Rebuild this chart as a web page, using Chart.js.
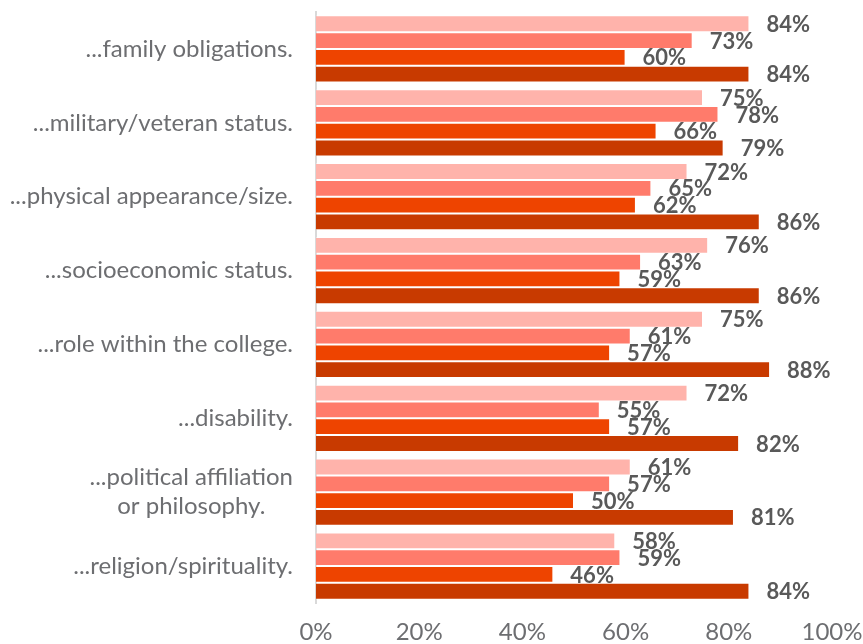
<!DOCTYPE html>
<html>
<head>
<meta charset="utf-8">
<script src="https://cdn.jsdelivr.net/npm/chart.js@4/dist/chart.umd.min.js"></script>
<style>
  html, body { margin: 0; padding: 0; background: #fff; }
  #wrap { width: 863px; height: 644px; position: relative; }
</style>
</head>
<body>
<div id="wrap"><canvas id="chart"></canvas></div>
<script>
// categories (multi-line entries are arrays)
const categories = [
  '...family obligations.',
  '...military/veteran status.',
  '...physical appearance/size.',
  '...socioeconomic status.',
  '...role within the college.',
  '...disability.',
  ['...political affiliation', 'or philosophy.'],
  '...religion/spirituality.'
];

// percentages per series, same order as categories
const series1 = [84, 75, 72, 76, 75, 72, 61, 58];
const series2 = [73, 78, 65, 63, 61, 55, 57, 59];
const series3 = [60, 66, 62, 59, 57, 57, 50, 46];
const series4 = [84, 79, 86, 86, 88, 82, 81, 84];

const xTicks = [0, 20, 40, 60, 80, 100];

const colors = ['#FFB3AB', '#FF7B6B', '#EE4400', '#C83A00'];

// value labels to the right of each bar
const valueLabels = {
  id: 'valueLabels',
  afterDatasetsDraw(chart) {
    const ctx = chart.ctx;
    ctx.save();
    ctx.font = 'bold 22px Lato';
    ctx.fillStyle = '#595959';
    ctx.textAlign = 'left';
    ctx.textBaseline = 'middle';
    chart.data.datasets.forEach((ds, i) => {
      chart.getDatasetMeta(i).data.forEach((bar, j) => {
        ctx.fillText(ds.data[j] + '%', bar.x + 17, bar.y + 1);
      });
    });
    ctx.restore();
  }
};

// category labels, right edge fixed, lines of a wrapped label centred
const categoryLabels = {
  id: 'categoryLabels',
  afterDraw(chart) {
    const ctx = chart.ctx;
    const y = chart.scales.y;
    const right = 293;
    const lineH = 29;
    ctx.save();
    ctx.font = '24px Lato';
    ctx.fillStyle = '#6D6E71';
    ctx.textAlign = 'center';
    ctx.textBaseline = 'middle';
    categories.forEach((c, i) => {
      const lines = Array.isArray(c) ? c : [c];
      const w = Math.max(...lines.map(l => ctx.measureText(l).width));
      const cx = right - w / 2;
      const cy = y.getPixelForTick(i);
      lines.forEach((l, k) => {
        ctx.fillText(l, cx, cy + (k - (lines.length - 1) / 2) * lineH);
      });
    });
    ctx.restore();
  }
};

const ctx = document.getElementById('chart').getContext('2d');
const myChart = new Chart(ctx, {
  type: 'bar',
  data: {
    labels: categories,
    datasets: [series1, series2, series3, series4].map((d, i) => ({
      label: 'Series ' + (i + 1),
      data: d,
      backgroundColor: colors[i],
      borderColor: 'rgba(255, 255, 255, 0.35)',
      borderWidth: 1,
      categoryPercentage: 0.91,
      barPercentage: 1
    }))
  },
  options: {
    indexAxis: 'y',
    responsive: true,
    maintainAspectRatio: false,
    devicePixelRatio: 1,
    animation: false,
    layout: { padding: { top: 12, right: 31, left: 0, bottom: 0 } },
    plugins: {
      legend: { display: false },
      tooltip: { enabled: false }
    },
    scales: {
      x: {
        min: 0,
        max: 100,
        afterBuildTicks: (scale) => { scale.ticks = xTicks.map(v => ({ value: v })); },
        ticks: {
          callback: (v) => v + '%',
          font: { family: 'Lato', size: 24 },
          color: '#6D6E71',
          padding: 15,
          maxRotation: 0
        },
        grid: { display: false, drawTicks: false },
        border: { display: false },
        afterFit: (scale) => {
          scale.height = 41;
          scale.paddingLeft = 0;
          scale.paddingRight = 0;
        }
      },
      y: {
        ticks: { display: false },
        grid: { display: false },
        border: { display: true, color: '#D9D9D9', width: 2 },
        afterFit: (scale) => { scale.width = 316; }
      }
    }
  },
  plugins: [valueLabels, categoryLabels]
});
</script>
</body>
</html>
